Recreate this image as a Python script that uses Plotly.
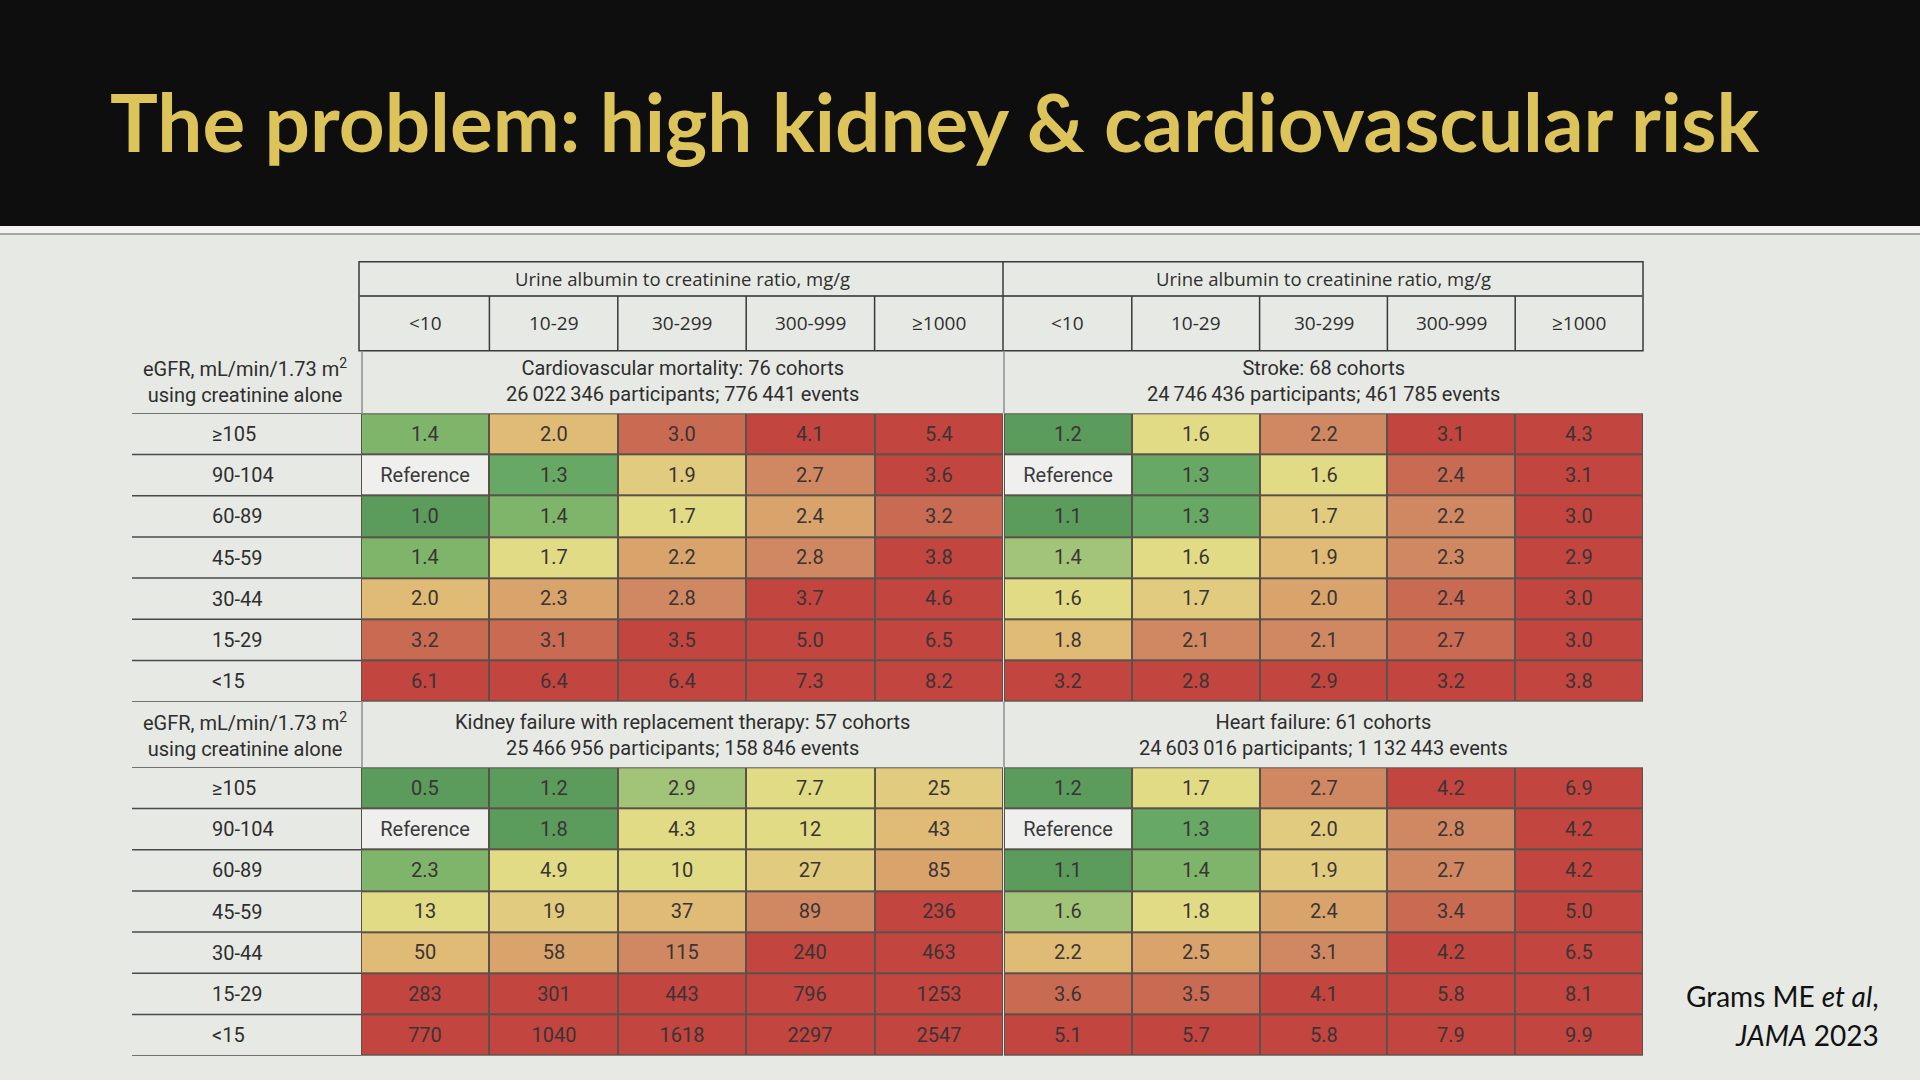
import plotly.graph_objects as go
import numpy as np

# categories
uacr = ["<10", "10-29", "30-299", "300-999", "≥1000"]
egfr = ["≥105", "90-104", "60-89", "45-59", "30-44", "15-29", "<15"]

# adjusted hazard ratios, None = reference cell
cv_mortality = [
    [1.4, 2.0, 3.0, 4.1, 5.4],
    [None, 1.3, 1.9, 2.7, 3.6],
    [1.0, 1.4, 1.7, 2.4, 3.2],
    [1.4, 1.7, 2.2, 2.8, 3.8],
    [2.0, 2.3, 2.8, 3.7, 4.6],
    [3.2, 3.1, 3.5, 5.0, 6.5],
    [6.1, 6.4, 6.4, 7.3, 8.2],
]
stroke = [
    [1.2, 1.6, 2.2, 3.1, 4.3],
    [None, 1.3, 1.6, 2.4, 3.1],
    [1.1, 1.3, 1.7, 2.2, 3.0],
    [1.4, 1.6, 1.9, 2.3, 2.9],
    [1.6, 1.7, 2.0, 2.4, 3.0],
    [1.8, 2.1, 2.1, 2.7, 3.0],
    [3.2, 2.8, 2.9, 3.2, 3.8],
]
kidney_failure = [
    [0.5, 1.2, 2.9, 7.7, 25],
    [None, 1.8, 4.3, 12, 43],
    [2.3, 4.9, 10, 27, 85],
    [13, 19, 37, 89, 236],
    [50, 58, 115, 240, 463],
    [283, 301, 443, 796, 1253],
    [770, 1040, 1618, 2297, 2547],
]
heart_failure = [
    [1.2, 1.7, 2.7, 4.2, 6.9],
    [None, 1.3, 2.0, 2.8, 4.2],
    [1.1, 1.4, 1.9, 2.7, 4.2],
    [1.6, 1.8, 2.4, 3.4, 5.0],
    [2.2, 2.5, 3.1, 4.2, 6.5],
    [3.6, 3.5, 4.1, 5.8, 8.1],
    [5.1, 5.7, 5.8, 7.9, 9.9],
]

T = "\u2009"  # thin space used as thousands separator
panel_titles = [
    f"Cardiovascular mortality: 76 cohorts<br>26{T}022{T}346 participants; 776{T}441 events",
    f"Stroke: 68 cohorts<br>24{T}746{T}436 participants; 461{T}785 events",
    f"Kidney failure with replacement therapy: 57 cohorts<br>25{T}466{T}956 participants; 158{T}846 events",
    f"Heart failure: 61 cohorts<br>24{T}603{T}016 participants; 1{T}132{T}443 events",
]
panels = [cv_mortality, stroke, kidney_failure, heart_failure]

# colour bands: upper bound of each of the first 10 levels, per outcome
level_cuts = [
    [1.0, 1.3, 1.4, 1.4, 1.7, 1.9, 2.0, 2.4, 2.8, 3.2],
    [1.2, 1.3, 1.3, 1.4, 1.6, 1.7, 1.9, 2.0, 2.3, 2.7],
    [1.8, 1.8, 2.3, 2.9, 13, 27, 50, 85, 115, 115],
    [1.2, 1.3, 1.4, 1.6, 1.8, 2.0, 2.2, 2.5, 3.1, 3.6],
]
level_colors = ["#5b9b5c", "#67a865", "#7fb46b", "#a2c479", "#e2db86", "#e1cb7f",
                "#dfbb76", "#d9a36c", "#d08862", "#c96a52", "#c2453f"]

W, H = 1920, 1080
BG = "#e7e9e5"
GRID = "#5a524a"
FONT = "Roboto"
INK = "#2e2e2e"


def fx(px):
    return px / W


def fy(py):
    return 1 - py / H


def fmt(v):
    if v is None:
        return ""
    return f"{v:.1f}" if v < 10 else f"{v:.0f}"


risk_scale = [[k / 10, c] for k, c in enumerate(level_colors)]

fig = go.Figure()
annotations = []

axis_ids = ["", "2", "3", "4"]
x_domains = [[fx(361), fx(1003)], [fx(1004), fx(1643)]] * 2
y_domains = [[fy(701.7), fy(413.3)]] * 2 + [[fy(1055.7), fy(767.3)]] * 2

for i, vals in enumerate(panels):
    ax = axis_ids[i]
    cuts = np.array(level_cuts[i])
    z = [[None if v is None else int(np.searchsorted(cuts, v - 1e-9, side="left")) for v in row]
         for row in vals]
    fig.add_trace(go.Heatmap(
        x=uacr, y=egfr, z=z,
        text=[[fmt(v) for v in row] for row in vals], texttemplate="%{text}",
        textfont=dict(family=FONT, size=20, color="#3a3434"),
        colorscale=risk_scale, zmin=0, zmax=10, showscale=False,
        xgap=2, ygap=2, hoverinfo="skip",
        xaxis="x" + ax, yaxis="y" + ax,
    ))
    # reference cell
    ref = [[1 if v is None else None for v in row] for row in vals]
    fig.add_trace(go.Heatmap(
        x=uacr, y=egfr, z=ref,
        text=[["Reference" if v is None else "" for v in row] for row in vals],
        texttemplate="%{text}",
        textfont=dict(family=FONT, size=20, color="#3a3a3a"),
        colorscale=[[0, "#efefed"], [1, "#efefed"]], showscale=False,
        xgap=2, ygap=2, hoverinfo="skip",
        xaxis="x" + ax, yaxis="y" + ax,
    ))
    fig.update_layout({
        "xaxis" + ax: dict(domain=x_domains[i], type="category", categoryarray=uacr,
                           range=[-0.5, 4.5], showticklabels=False, showgrid=False,
                           zeroline=False, showline=False, ticks="", fixedrange=True),
        "yaxis" + ax: dict(domain=y_domains[i], type="category", categoryarray=egfr,
                           range=[6.5, -0.5], showticklabels=False, showgrid=False,
                           zeroline=False, showline=False, ticks="", fixedrange=True),
    })
    # panel title
    annotations.append(dict(xref="x" + ax + " domain", x=0.5, yref="paper",
                            y=fy(381) if i < 2 else fy(734.5), text=panel_titles[i],
                            xanchor="center", yanchor="middle", showarrow=False,
                            font=dict(family=FONT, size=20, color=INK)))

shapes = []
# title band
shapes.append(dict(type="rect", xref="paper", yref="paper", x0=0, x1=1, y0=fy(226), y1=1,
                   fillcolor="#0e0e0e", line_width=0, layer="below"))
shapes.append(dict(type="rect", xref="paper", yref="paper", x0=0, x1=1, y0=fy(233), y1=fy(226),
                   fillcolor="#f3f3f1", line_width=0, layer="below"))
shapes.append(dict(type="line", xref="paper", yref="paper", x0=0, x1=1, y0=fy(234), y1=fy(234),
                   line=dict(color="#a6a6a4", width=2)))

# header box
shapes.append(dict(type="rect", xref="paper", yref="paper", x0=fx(359), x1=fx(1643),
                   y0=fy(350.7), y1=fy(261.7), line=dict(color="#3a3a3a", width=1.5)))
shapes.append(dict(type="line", xref="paper", yref="paper", x0=fx(359), x1=fx(1643),
                   y0=fy(296), y1=fy(296), line=dict(color="#5a5a5a", width=2)))
shapes.append(dict(type="line", xref="paper", yref="paper", x0=fx(1003), x1=fx(1003),
                   y0=fy(350.7), y1=fy(261.7), line=dict(color="#3a3a3a", width=1.5)))
for ax in ["", "2"]:
    for k in range(1, 5):
        shapes.append(dict(type="line", xref="x" + ax, yref="paper", x0=k - 0.5, x1=k - 0.5,
                           y0=fy(350.7), y1=fy(296), line=dict(color="#3a3a3a", width=1.5)))

# thin dividers in the panel title rows
for y0, y1 in [(350.7, 413.3), (701.7, 767.3)]:
    for xp in [362, 1004]:
        shapes.append(dict(type="line", xref="paper", yref="paper", x0=fx(xp), x1=fx(xp),
                           y0=fy(y1), y1=fy(y0), line=dict(color="#8e8e8e", width=1.5)))

# row rules in the label column
for ax in ["", "3"]:
    for k in range(8):
        shapes.append(dict(type="line", xref="paper", yref="y" + ax, x0=fx(132), x1=fx(361),
                           y0=k - 0.5, y1=k - 0.5, line=dict(color="#4a4a4a", width=1.5)))

# slide title
annotations.append(dict(xref="paper", yref="paper", x=fx(108), y=fy(121), xanchor="left",
                        yanchor="middle", showarrow=False,
                        text="<b>The problem: high kidney &amp; cardiovascular risk</b>",
                        font=dict(family="Lato", size=80, color="#dcc35a")))
# albuminuria headers
for ax in ["", "2"]:
    annotations.append(dict(xref="x" + ax + " domain", x=0.5, yref="paper", y=fy(279),
                            xanchor="center", yanchor="middle",
                            text="Urine albumin to creatinine ratio, mg/g", showarrow=False,
                            font=dict(family="Open Sans", size=18.5, color=INK)))
    for c in uacr:
        annotations.append(dict(xref="x" + ax, x=c, yref="paper", y=fy(323),
                                xanchor="center", yanchor="middle",
                                text=c.replace("<", "&lt;"), showarrow=False,
                                font=dict(family="Open Sans", size=19, color=INK)))
# eGFR labels
for ax, yc in [("", 381), ("3", 734.5)]:
    annotations.append(dict(xref="paper", x=fx(245), yref="paper", y=fy(yc),
                            xanchor="center", yanchor="middle",
                            text="eGFR, mL/min/1.73 m<sup>2</sup><br>using creatinine alone",
                            showarrow=False, font=dict(family=FONT, size=20, color=INK)))
    for r in egfr:
        annotations.append(dict(xref="paper", x=fx(210), xanchor="left", yref="y" + ax, y=r,
                                yanchor="middle", text=r.replace("<", "&lt;"), showarrow=False,
                                font=dict(family=FONT, size=20, color=INK)))
# citation
annotations.append(dict(xref="paper", yref="paper", x=fx(1881), y=fy(996), xanchor="right",
                        yanchor="middle", text="Grams ME <i>et al</i>,", showarrow=False,
                        font=dict(family="Lato", size=28, color="#111111")))
annotations.append(dict(xref="paper", yref="paper", x=fx(1881), y=fy(1035), xanchor="right",
                        yanchor="middle", text="<i>JAMA</i> 2023", showarrow=False,
                        font=dict(family="Lato", size=28, color="#111111")))

fig.update_layout(
    width=W, height=H,
    margin=dict(l=0, r=0, t=0, b=0),
    paper_bgcolor=BG, plot_bgcolor=GRID,
    shapes=shapes, annotations=annotations,
    showlegend=False,
)

fig.write_html("out.html", config={"displayModeBar": False},
               post_script="document.body.style.margin='0px';")
